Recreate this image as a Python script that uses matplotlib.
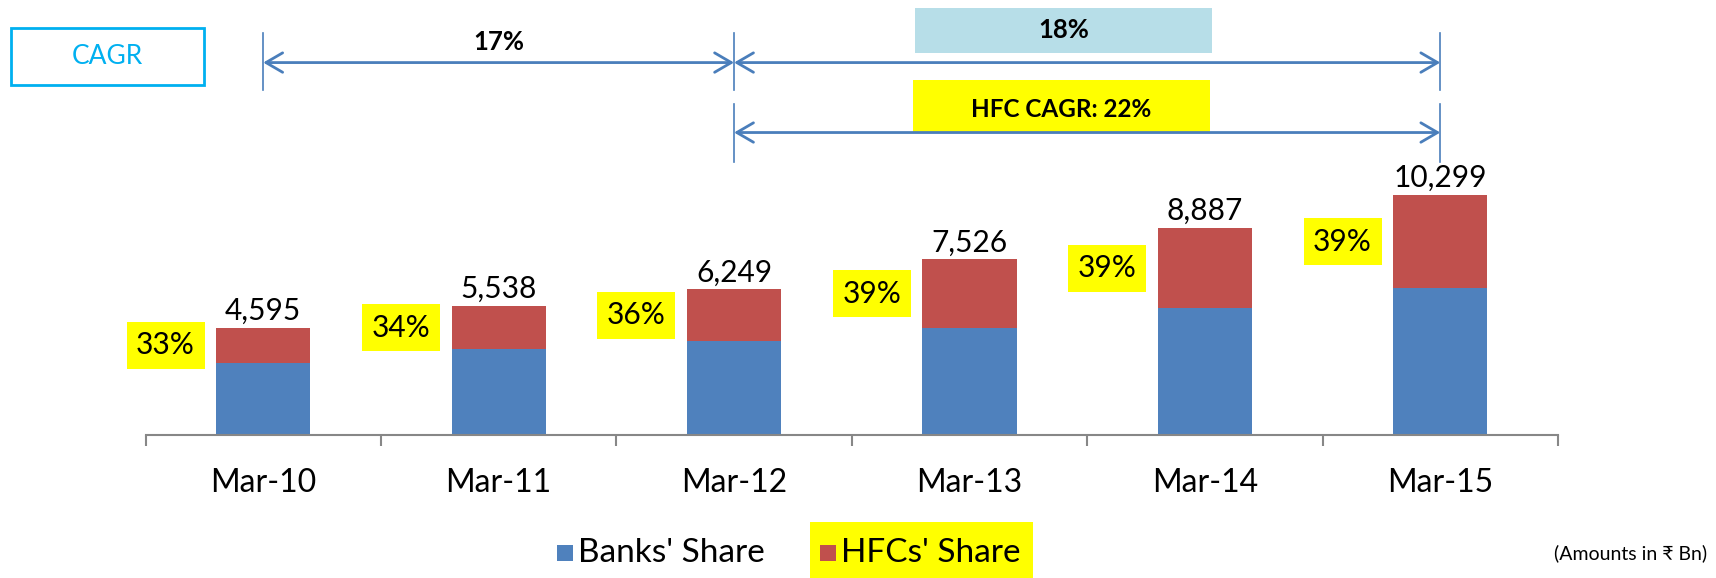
import numpy as np
import matplotlib
matplotlib.use('Agg')
import matplotlib.pyplot as plt
import matplotlib.transforms as mtransforms
from matplotlib.patches import Rectangle

# ------------------------
# data
# ------------------------
periods = ['Mar-10', 'Mar-11', 'Mar-12', 'Mar-13', 'Mar-14', 'Mar-15']
totals = [4595, 5538, 6249, 7526, 8887, 10299]
hfc_pct = [33, 34, 36, 39, 39, 39]

cagr_total_1 = '17%'   # Mar-10 -> Mar-12
cagr_total_2 = '18%'   # Mar-12 -> Mar-15
cagr_hfc = 'HFC CAGR: 22%'

hfcs = [t * p / 100.0 for t, p in zip(totals, hfc_pct)]
banks = [t - h for t, h in zip(totals, hfcs)]

# ------------------------
# style
# ------------------------
blue = '#4F81BD'
red = '#C0504D'
yellow = '#FFFF00'
lightblue = '#B7DEE8'
arrow_col = '#4A7EBB'
cyan = '#00B0F0'
grey = '#878787'

plt.rcParams['font.family'] = ['Lato', 'Noto Sans', 'DejaVu Sans']

W, H = 1716, 578
fig = plt.figure(figsize=(W / 100, H / 100), dpi=100)

# main axes: baseline at y=434.5 px, categories span 145.5..1558 px
ax = fig.add_axes([145.5 / W, 143.5 / H, 1412.5 / W, 434.5 / H])
x = np.arange(len(periods))
ax.bar(x, banks, width=0.40, color=blue, zorder=2)
ax.bar(x, hfcs, width=0.40, bottom=banks, color=red, zorder=2)

ax.set_xlim(-0.5, len(periods) - 0.5)
ax.set_ylim(0, 18680)

for s in ['top', 'right', 'left']:
    ax.spines[s].set_visible(False)
ax.spines['bottom'].set_color(grey)
ax.spines['bottom'].set_linewidth(1.5)
ax.set_yticks([])
ax.set_xticks(np.arange(-0.5, len(periods)))
ax.set_xticklabels([])
ax.tick_params(axis='x', which='major', length=8, width=1.5, color=grey, direction='out')
ax.set_xticks(x, minor=True)
ax.set_xticklabels(periods, minor=True, fontsize=23)
ax.tick_params(axis='x', which='minor', length=0, pad=24)

# totals above bars and HFC share boxes beside
for i in range(len(periods)):
    ax.annotate(f'{totals[i]:,}', xy=(x[i], totals[i]), xytext=(0, 2),
                textcoords='offset points', ha='center', va='bottom', fontsize=21.5)
    ax.text(x[i] - 0.415, banks[i] + hfcs[i] / 2, f'{hfc_pct[i]}%', ha='center', va='center',
            fontsize=21.5, bbox=dict(boxstyle='square,pad=0.32', fc=yellow, ec='none'))

# CAGR arrows (x in data, y in axes fraction)
tr = mtransforms.blended_transform_factory(ax.transData, ax.transAxes)


def span_arrow(x0, x1, yf):
    ax.annotate('', xy=(x1, yf), xytext=(x0, yf), xycoords=tr, textcoords=tr,
                arrowprops=dict(arrowstyle='<->,head_length=0.6,head_width=0.35',
                                color=arrow_col, lw=2, mutation_scale=20,
                                shrinkA=0, shrinkB=0), zorder=3)


for xv in [0, 2, 5]:
    ax.plot([xv, xv], [0.793, 0.924], color=arrow_col, lw=1.2, transform=tr)
for xv in [2, 5]:
    ax.plot([xv, xv], [0.627, 0.761], color=arrow_col, lw=1.2, transform=tr)

# label boxes behind the arrows
ax.add_patch(Rectangle((2.77, 0.879), 1.26, 0.103, transform=tr, fc=lightblue, ec='none', zorder=1))
ax.add_patch(Rectangle((2.76, 0.696), 1.26, 0.120, transform=tr, fc=yellow, ec='none', zorder=1))

span_arrow(0, 2, 0.856)
span_arrow(2, 5, 0.856)
span_arrow(2, 5, 0.695)

ax.text(1.0, 0.904, cagr_total_1, transform=tr, ha='center', va='center', fontsize=18.5, fontweight='bold')
ax.text(3.40, 0.930, cagr_total_2, transform=tr, ha='center', va='center', fontsize=18.5, fontweight='bold')
ax.text(3.39, 0.748, cagr_hfc, transform=tr, ha='center', va='center', fontsize=17.5, fontweight='bold')

# CAGR tag at top left
fig.patches.append(Rectangle((11 / W, 1 - 85.4 / H), 193 / W, 57 / H, transform=fig.transFigure,
                             fc='white', ec=cyan, lw=2))
fig.text(107 / W, 1 - 57 / H, 'CAGR', color=cyan, ha='center', va='center', fontsize=19)

# legend
ly = 1 - 553 / H
fig.patches.append(Rectangle((810 / W, 0), 223 / W, 56 / H, transform=fig.transFigure,
                             fc=yellow, ec='none'))
fig.patches.append(Rectangle((557 / W, ly - 8 / H), 16 / W, 16 / H, transform=fig.transFigure,
                             fc=blue, ec='none'))
fig.patches.append(Rectangle((820 / W, ly - 8 / H), 16 / W, 16 / H, transform=fig.transFigure,
                             fc=red, ec='none'))
fig.text(578 / W, ly, "Banks' Share", ha='left', va='center', fontsize=24)
fig.text(841 / W, ly, "HFCs' Share", ha='left', va='center', fontsize=24)
fig.text(1707 / W, ly, '(Amounts in \u20b9 Bn)', ha='right', va='center', fontsize=14)

fig.savefig('out.png', dpi=100)
